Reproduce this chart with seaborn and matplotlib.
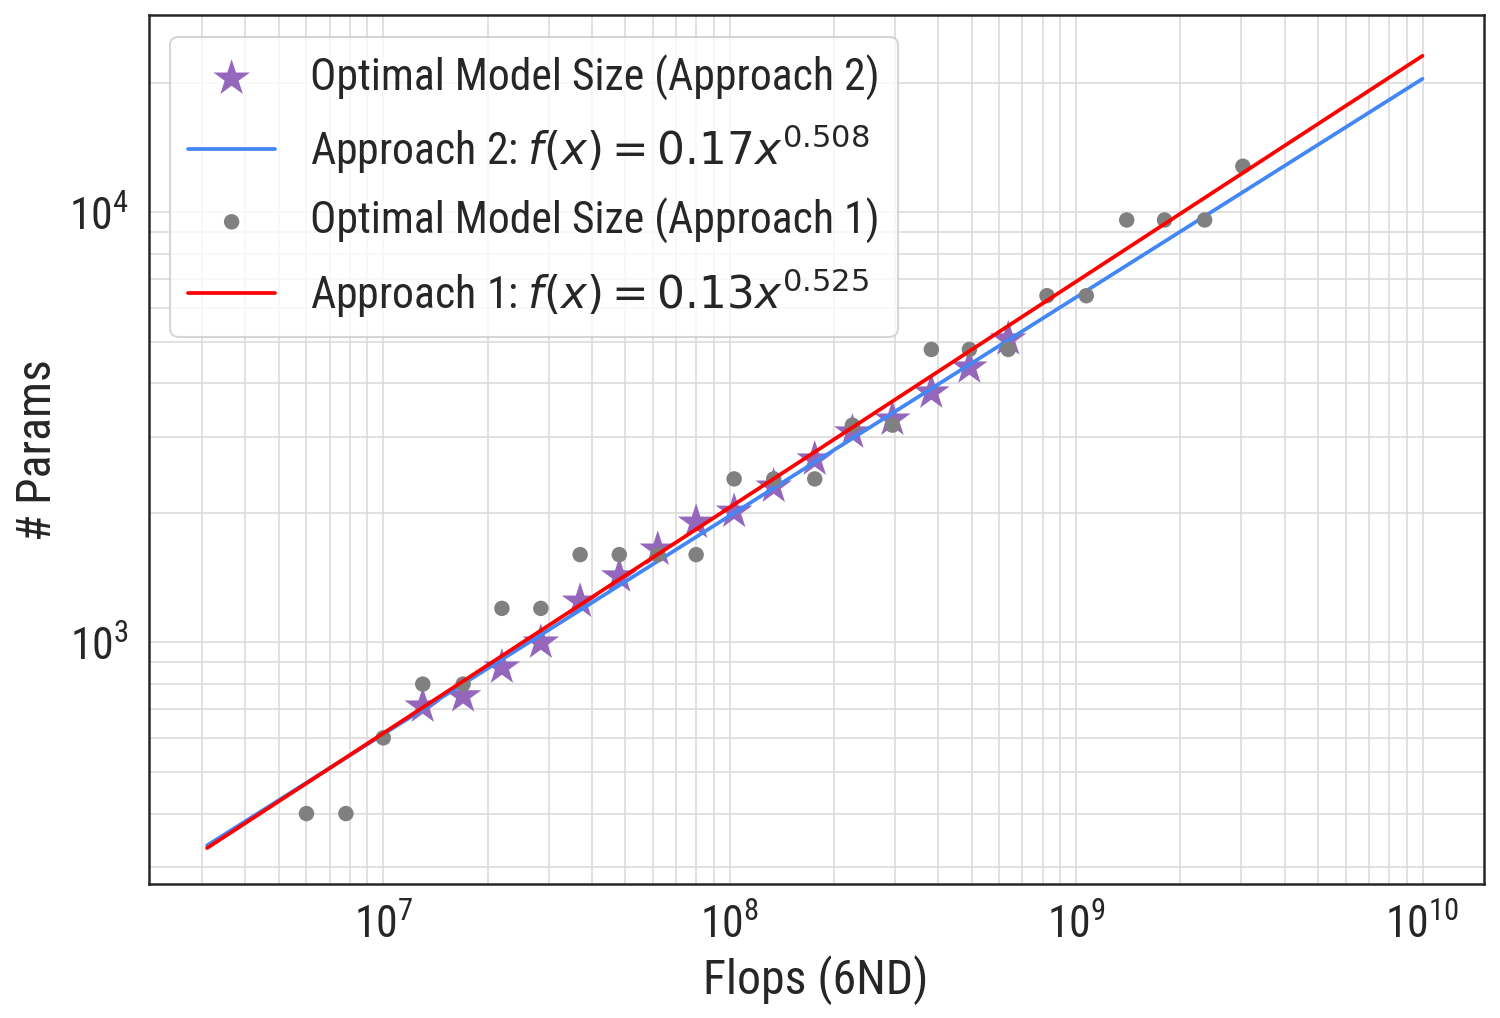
import numpy as np
import pandas as pd
import seaborn as sns
import matplotlib
matplotlib.use("Agg")
import matplotlib.pyplot as plt
from matplotlib import font_manager

# Approach 1: optimal model size per compute budget (grey dots)
flops_a1 = [6.0e6, 7.8e6, 1.0e7, 1.3e7, 1.7e7, 2.2e7, 2.85e7, 3.7e7, 4.8e7, 6.2e7,
            8.0e7, 1.03e8, 1.34e8, 1.76e8, 2.26e8, 2.95e8, 3.82e8, 4.92e8, 6.37e8,
            8.24e8, 1.07e9, 1.40e9, 1.80e9, 2.35e9, 3.03e9]
params_a1 = [400, 400, 600, 800, 800, 1200, 1200, 1600, 1600, 1600,
             1600, 2400, 2400, 2400, 3200, 3200, 4800, 4800, 4800,
             6400, 6400, 9600, 9600, 9600, 12800]

# Approach 2: optimal model size (stars)
flops_a2 = [1.3e7, 1.7e7, 2.2e7, 2.85e7, 3.7e7, 4.8e7, 6.2e7, 8.0e7,
            1.03e8, 1.34e8, 1.76e8, 2.26e8, 2.95e8, 3.82e8, 4.92e8, 6.37e8]
params_a2 = [710, 750, 875, 1000, 1245, 1425, 1645, 1900,
             2015, 2305, 2665, 3080, 3300, 3815, 4360, 5070]

# power-law fits  f(x) = a * x^b
fit_a1 = (0.13, 0.525)
fit_a2 = (0.17, 0.508)
fit_range = (3.1e6, 1e10)

sns.set_theme(style="white")
names = {f.name for f in font_manager.fontManager.ttflist}
fam = [n for n in ["Roboto Condensed", "Roboto", "DejaVu Sans"] if n in names]
plt.rcParams["font.family"] = fam
plt.rcParams["mathtext.fontset"] = "dejavusans"

fig, ax = plt.subplots(figsize=(10.0, 6.79), dpi=150)

df1 = pd.DataFrame({"flops": flops_a1, "params": params_a1})
df2 = pd.DataFrame({"flops": flops_a2, "params": params_a2})

xs = np.logspace(np.log10(fit_range[0]), np.log10(fit_range[1]), 200)

sns.scatterplot(data=df2, x="flops", y="params", marker="*", s=340, color="#9467bd",
                edgecolor="none", label="Optimal Model Size (Approach 2)", ax=ax, zorder=3)
sns.lineplot(x=xs, y=fit_a2[0] * xs ** fit_a2[1], color="#4287f5", linewidth=1.8,
             label=r"Approach 2: $f(x) = 0.17x^{0.508}$", ax=ax, zorder=4)
sns.scatterplot(data=df1, x="flops", y="params", marker="o", s=55, color="gray",
                edgecolor="none", label="Optimal Model Size (Approach 1)", ax=ax, zorder=5)
sns.lineplot(x=xs, y=fit_a1[0] * xs ** fit_a1[1], color="red", linewidth=1.8,
             label=r"Approach 1: $f(x) = 0.13x^{0.525}$", ax=ax, zorder=6)

ax.set_xscale("log")
ax.set_yscale("log")
ax.set_xlim(2.1e6, 1.5e10)
ax.set_ylim(275, 2.88e4)

ax.grid(True, which="both", color="#dcdcdc", linewidth=0.8)
for s in ax.spines.values():
    s.set_color("#262626")
    s.set_linewidth(1.2)

ax.tick_params(axis="both", which="major", labelsize=21)
ax.set_xlabel("Flops (6ND)", fontsize=23)
ax.set_ylabel("# Params", fontsize=23)

ax.legend(loc="upper left", fontsize=21, frameon=True, handlelength=2.0)

fig.subplots_adjust(left=0.099, right=0.989, top=0.985, bottom=0.132)
fig.savefig("out.png", dpi=150)
